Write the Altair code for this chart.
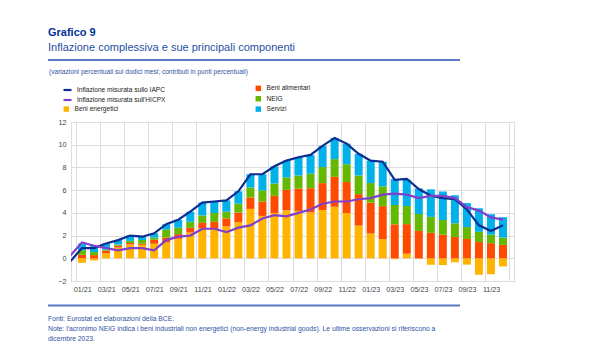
import altair as alt
import pandas as pd

# ---------------- data ----------------
months = ["01/21", "02/21", "03/21", "04/21", "05/21", "06/21", "07/21", "08/21", "09/21", "10/21", "11/21", "12/21",
          "01/22", "02/22", "03/22", "04/22", "05/22", "06/22", "07/22", "08/22", "09/22", "10/22", "11/22", "12/22",
          "01/23", "02/23", "03/23", "04/23", "05/23", "06/23", "07/23", "08/23", "09/23", "10/23", "11/23", "12/23"]
tick_labels = months[::2]

energy = [-0.40, -0.19, 0.44, 0.96, 1.22, 1.18, 1.28, 1.40, 1.72, 2.27, 2.64, 2.51,
          2.81, 3.18, 4.35, 3.73, 3.99, 4.23, 4.17, 4.04, 4.25, 4.54, 3.99, 2.88,
          2.18, 1.69, -0.08, 0.40, -0.05, -0.57, -0.60, -0.35, -0.56, -1.45, -1.40, -0.72]
food = [0.31, 0.28, 0.24, 0.15, 0.13, 0.11, 0.35, 0.44, 0.41, 0.41, 0.48, 0.70,
        0.70, 0.84, 1.01, 1.27, 1.51, 1.79, 1.97, 2.13, 2.37, 2.63, 2.73, 2.77,
        2.72, 2.90, 2.99, 2.61, 2.41, 2.24, 2.08, 1.87, 1.70, 1.43, 1.33, 1.18]
neig = [0.40, 0.27, 0.08, 0.11, 0.19, 0.32, 0.19, 0.70, 0.56, 0.54, 0.65, 0.78,
        0.59, 0.79, 0.87, 0.97, 1.08, 1.10, 1.15, 1.28, 1.41, 1.56, 1.56, 1.64,
        1.72, 1.75, 1.70, 1.59, 1.49, 1.41, 1.29, 1.21, 1.05, 0.90, 0.75, 0.64]
services = [0.59, 0.54, 0.54, 0.38, 0.46, 0.29, 0.38, 0.46, 0.71, 0.88, 1.13, 1.01,
            1.00, 1.09, 1.17, 1.43, 1.52, 1.48, 1.61, 1.65, 1.87, 1.87, 1.82, 1.91,
            1.98, 2.16, 2.29, 2.33, 2.25, 2.42, 2.51, 2.47, 2.11, 2.07, 1.80, 1.80]
# lines start one month earlier (12/20), clipped at the plot edge
iapc = [-0.3, 0.9, 0.9, 1.3, 1.6, 2.0, 1.9, 2.2, 3.0, 3.4, 4.1, 4.9, 5.0,
        5.1, 5.9, 7.4, 7.4, 8.1, 8.6, 8.9, 9.1, 9.9, 10.6, 10.1, 9.2,
        8.6, 8.5, 6.9, 7.0, 6.1, 5.5, 5.3, 5.2, 4.3, 2.9, 2.4, 2.9]
hicpx = [0.2, 1.4, 1.1, 0.9, 0.7, 0.9, 0.9, 0.7, 1.6, 1.9, 2.0, 2.6, 2.6,
         2.3, 2.7, 2.9, 3.5, 3.8, 3.7, 4.0, 4.3, 4.8, 5.0, 5.0, 5.2,
         5.3, 5.6, 5.7, 5.6, 5.3, 5.5, 5.5, 5.3, 4.5, 4.2, 3.6, 3.4]

NAME_IAPC = "Inflazione misurata sullo IAPC"
NAME_HICPX = "Inflazione misurata sull'HICPX"
comp_names = ["Beni energetici", "Beni alimentari", "NEIG", "Servizi"]
comp_colors = {"Beni energetici": "#ffb400", "Beni alimentari": "#ff4b00",
               "NEIG": "#65b800", "Servizi": "#00b1ea"}

FONT = "Liberation Sans"
BLUE_TXT = "#2f52a6"

rows = []
for i in range(len(months)):
    for k, (nm, vals) in enumerate(zip(comp_names, [energy, food, neig, services])):
        rows.append({"t": i, "comp": nm, "ord": k, "v": vals[i]})
bars_df = pd.DataFrame(rows)

lrows = []
for i in range(len(iapc)):
    lrows.append({"t": i - 1, "series": NAME_IAPC, "v": iapc[i]})
    lrows.append({"t": i - 1, "series": NAME_HICPX, "v": hicpx[i]})
lines_df = pd.DataFrame(lrows)

# ---------------- scales / axes ----------------
xscale = alt.Scale(domain=[-0.5, len(months) - 0.5], nice=False, zero=False)
yscale = alt.Scale(domain=[-2, 12], nice=False)

lab_arr = "[" + ",".join("'" + s + "'" for s in tick_labels) + "]"
xaxis = alt.Axis(values=[-0.5 + 2 * k for k in range(19)], grid=True, ticks=False, tickSize=0, domain=False,
                 labelExpr=f"{lab_arr}[round((datum.value + 0.5) / 2)] || ''",
                 labelOffset=6.15, labelPadding=4, labelFlush=False, labelOverlap=False, labelBound=False,
                 labelFontSize=7.2, labelColor="#444", labelFont=FONT, title=None)
yaxis = alt.Axis(values=list(range(-2, 13, 2)), grid=True, ticks=False, tickSize=0, domain=False,
                 labelFontSize=7.2, labelColor="#444", labelFont=FONT, labelPadding=5, title=None)

# legend grid is filled column by column (3 rows): two blank slots above "Beni energetici"
fill_domain = ["_a", "_b", "Beni energetici", "Beni alimentari", "NEIG", "Servizi"]
fill_range = ["transparent", "transparent", comp_colors["Beni energetici"], comp_colors["Beni alimentari"],
              comp_colors["NEIG"], comp_colors["Servizi"]]

bars = alt.Chart(bars_df).mark_bar(size=8).encode(
    x=alt.X("t:Q", scale=xscale, axis=xaxis),
    y=alt.Y("v:Q", stack="zero", scale=yscale, axis=yaxis),
    fill=alt.Fill("comp:N", scale=alt.Scale(domain=fill_domain, range=fill_range),
                  legend=alt.Legend(orient="none", legendX=-8, legendY=-37, columns=2, columnPadding=136,
                                    rowPadding=3.4, symbolType="square", symbolSize=30, symbolStrokeWidth=0,
                                    labelFontSize=6.6, labelFont=FONT, labelColor="#222", labelOffset=5,
                                    labelExpr="indexof(datum.label, '_') == 0 ? '' : datum.label",
                                    title=None, padding=0)),
    order=alt.Order("ord:Q", sort="ascending"),
)

stroke_scale = alt.Scale(domain=[NAME_IAPC, NAME_HICPX], range=["#0b2d8f", "#8040cc"])
stroke_legend = alt.Legend(orient="none", legendX=-9, legendY=-37.5, direction="vertical",
                           symbolType="stroke", symbolStrokeWidth=2.2, symbolSize=64, rowPadding=0,
                           labelFontSize=6.6, labelFont=FONT, labelColor="#222", labelOffset=4,
                           title=None, padding=0)

line_iapc = alt.Chart(lines_df).transform_filter(alt.datum.series == NAME_IAPC).mark_line(
    strokeWidth=2.2, clip=True).encode(
    x=alt.X("t:Q", scale=xscale, axis=xaxis),
    y=alt.Y("v:Q", scale=yscale, axis=yaxis),
    stroke=alt.Stroke("series:N", scale=stroke_scale, legend=stroke_legend),
)
line_hicpx = alt.Chart(lines_df).transform_filter(alt.datum.series == NAME_HICPX).mark_line(
    strokeWidth=2.2, clip=True).encode(
    x=alt.X("t:Q", scale=xscale, axis=xaxis),
    y=alt.Y("v:Q", scale=yscale, axis=yaxis),
    stroke=alt.Stroke("series:N", scale=stroke_scale, legend=stroke_legend),
)

# ---------------- annotations ----------------
one = pd.DataFrame({"a": [0]})
units_txt = alt.Chart(one).mark_text(align="left", baseline="middle", font=FONT, fontSize=6.6,
                                     color=BLUE_TXT).encode(
    x=alt.value(-22), y=alt.value(-50),
    text=alt.value("(variazioni percentuali sui dodici mesi; contributi in punti percentuali)"))

footer_txt = alt.Chart(one).mark_text(align="left", baseline="middle", font=FONT, fontSize=6.8,
                                      color=BLUE_TXT, lineHeight=10).encode(
    x=alt.value(-23), y=alt.value(196.5),
    text=alt.value(["Fonti: Eurostat ed elaborazioni della BCE.",
                    "Note: l'acronimo NEIG indica i beni industriali non energetici (non-energy industrial goods). "
                    "Le ultime osservazioni si riferiscono a",
                    "dicembre 2023."]))

rule_top = alt.Chart(one).mark_rule(color="#5a7bc4", strokeWidth=2).encode(
    x=alt.value(-23), x2=alt.value(389), y=alt.value(-62))
rule_bot = alt.Chart(one).mark_rule(color="#5a7bc4", strokeWidth=2).encode(
    x=alt.value(-23), x2=alt.value(389), y=alt.value(183.5))

chart = alt.layer(bars, line_iapc, line_hicpx, units_txt, footer_txt, rule_top, rule_bot).properties(
    width=443, height=159,
    padding={"left": 71, "top": 122, "right": 86, "bottom": 60},
    autosize=alt.AutoSizeParams(type="none"),
    title=alt.TitleParams(text="Grafico 9", subtitle="Inflazione complessiva e sue principali componenti",
                          anchor="start", frame="group", orient="top", dx=-23, offset=6,
                          font=FONT, fontSize=11, fontWeight="bold", color="#003299",
                          subtitleFont=FONT, subtitleFontSize=11, subtitleColor="#1f4fa3",
                          subtitlePadding=4),
).configure_view(stroke=None).configure_axis(gridColor="#e4e4e4", gridWidth=1).configure(font=FONT)

chart.save("out.html", embed_options={"renderer": "svg", "actions": False})
